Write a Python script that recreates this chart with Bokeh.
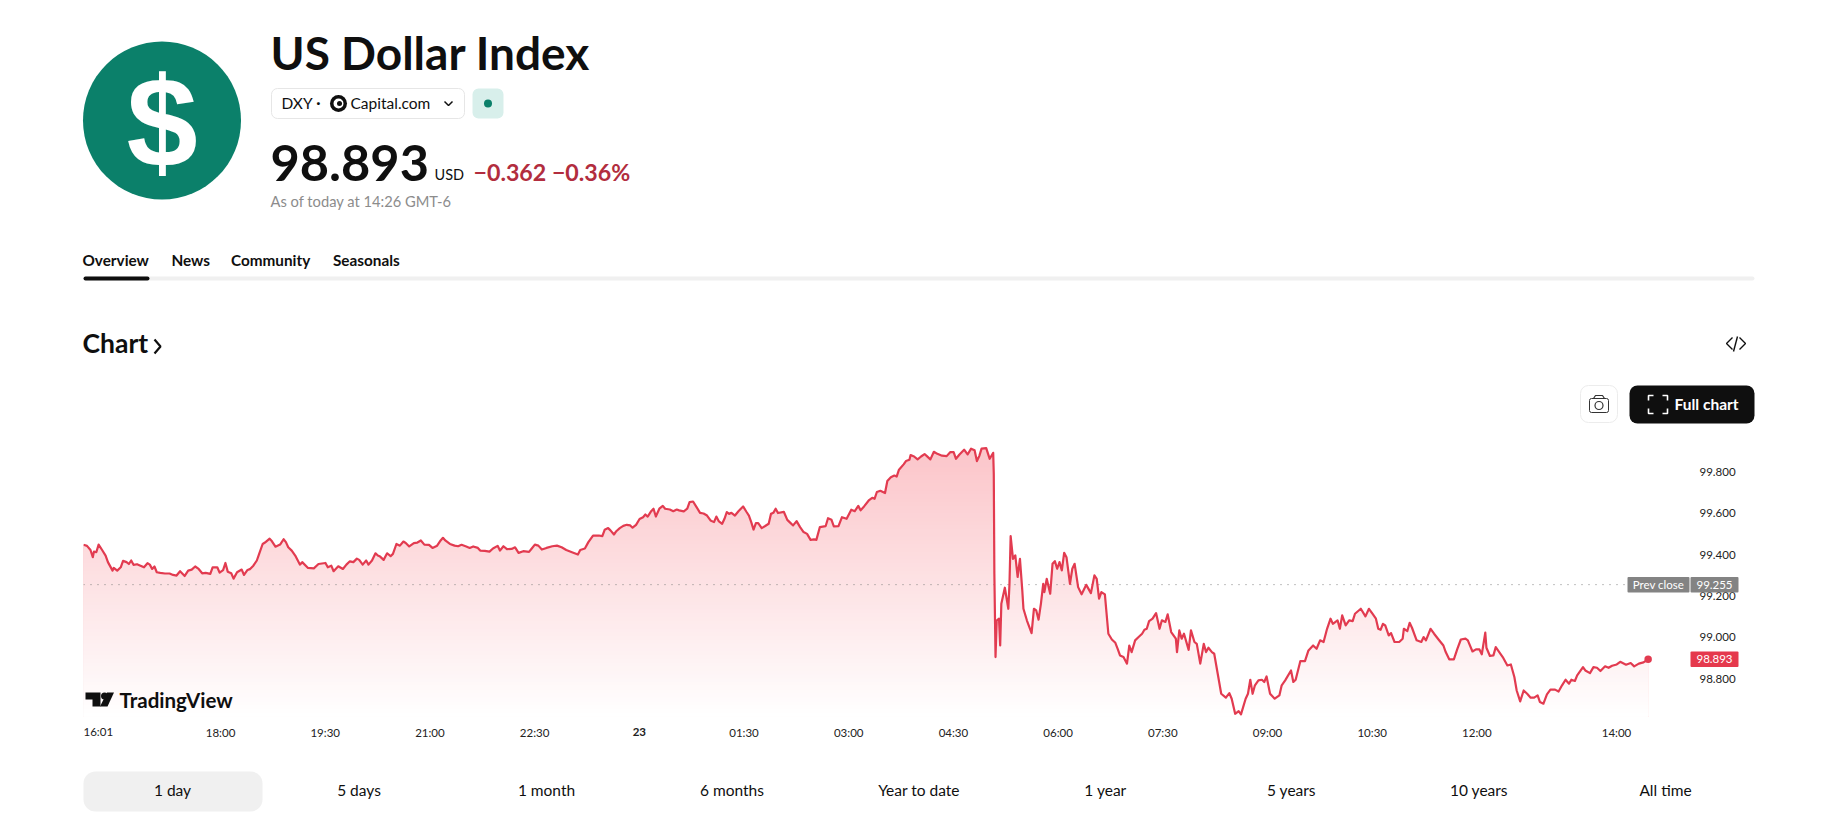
import numpy as np
from bokeh.core.properties import value
from bokeh.embed import file_html
from bokeh.layouts import column
from bokeh.models import FixedTicker, Label, NumeralTickFormatter, Range1d
from bokeh.plotting import figure
from bokeh.resources import INLINE

# ---- data ----
minutes = [0,3,6,8,9,11,13,16,19,21,25,26,29,32,34,37,39,41,43,46,49,52,55,57,59,61,63,66,70,74,77,80,83,87,90,93,96,99,102,105,109,111,115,117,120,122,124,127,129,132,136,138,141,143,146,149,151,154,156,160,162,165,169,172,174,176,179,182,186,188,193,198,202,208,210,213,215,219,223,
226,229,232,235,237,240,243,245,248,251,253,255,258,261,264,266,269,272,275,277,280,284,287,290,293,297,300,304,307,309,311,315,319,322,325,329,332,335,339,341,345,349,352,356,358,361,364,368,371,374,378,383,385,388,391,394,398,403,407,411,415,421,425,427,431,434,438,443,446,
448,451,453,456,458,461,464,467,470,472,475,478,481,483,485,488,490,492,495,498,500,504,507,510,512,516,519,521,524,527,530,533,536,539,542,544,546,549,551,553,555,557,560,563,567,570,572,574,576,578,580,583,586,589,591,593,595,597,602,605,607,610,613,616,619,622,625,628,630,633,638,640,643,645,649,652,656,660,663,666,668,670,
671,675,678,680,682,685,689,691,694,697,699,701,705,707,710,711,714,717,720,723,725,728,731,734,738,742,745,748,750,753,757,760,763,766,768,770,772,776,779,782,782.5,783,784,785,787,788,789,792,795,796,797,799,801,803,805,807,808,811,815,817,819,821,823,825,826,828,831,833,835,837,839,841,843,845,848,850,852,855,858,862,866,869,871,873,875,878,881,884,887,889,891,
894,897,899,901,904,907,910,912,914,916,919,922,925,927,930,932,935,939,940,942,944,946,950,952,955,957,960,963,965,967,970,972,975,978,982,985,987,990,993,995,999,1001,1003,1005,1007,1010,1013,1015,1017,1020,1024,1028,1030,1033,1038,1040,1042,1046,1050,1053,1057,1060,1063,1066,1069,1072,1074,1078,1080,1082,1085,1088,1091,1093,1098,1102,1105,1108,1111,1113,1115,
1117,1119,1122,1124,1127,1131,1134,1135,1138,1140,1142,1146,1150,1152,1154,1158,1161,1165,1169,1171,1174,1178,1181,1184,1188,1190,1194,1197,1200,1202,1205,1206,1209,1212,1214,1217,1220,1224,1227,1230,1232,1235,1238,1241,1244,1247,1250,1252,1255,1258,1261,1265,1268,1271,1274,1277,1279,1282,1284,1289,1291,1295,1298,1301,1304,1308,1311,1314,1318,1321,1326,1330,1333,1337,1341,1345]
prices = [99.448,99.443,99.423,99.388,99.415,99.412,99.449,99.423,99.396,99.364,99.323,99.336,99.323,99.339,99.370,99.364,99.355,99.372,99.351,99.354,99.347,99.339,99.359,99.352,99.331,99.343,99.315,99.312,99.309,99.309,99.302,99.299,99.320,99.297,99.323,99.328,99.343,99.331,99.310,99.312,99.307,99.339,99.339,99.313,99.325,99.360,99.318,99.310,99.284,99.315,99.328,99.302,99.326,99.330,99.347,99.372,99.404,99.452,99.459,99.478,99.465,99.439,99.449,99.475,99.461,99.436,99.420,99.396,99.352,99.364,99.336,99.334,99.355,99.360,99.339,99.347,99.320,99.344,99.331,
99.352,99.368,99.364,99.381,99.375,99.352,99.372,99.352,99.372,99.407,99.396,99.391,99.375,99.407,99.393,99.404,99.452,99.444,99.464,99.457,99.440,99.456,99.459,99.469,99.449,99.448,99.433,99.444,99.469,99.482,99.469,99.452,99.444,99.441,99.448,99.440,99.433,99.440,99.433,99.420,99.419,99.415,99.430,99.443,99.420,99.441,99.427,99.428,99.436,99.409,99.417,99.414,99.428,99.449,99.444,99.425,99.433,99.441,99.444,99.436,99.423,99.410,99.401,99.423,99.430,99.461,99.493,99.493,99.490,
99.521,99.529,99.518,99.498,99.514,99.529,99.540,99.545,99.542,99.531,99.545,99.573,99.582,99.595,99.585,99.611,99.623,99.585,99.623,99.637,99.623,99.619,99.611,99.619,99.615,99.610,99.623,99.655,99.658,99.631,99.603,99.600,99.590,99.566,99.558,99.585,99.563,99.550,99.574,99.607,99.598,99.603,99.590,99.611,99.634,99.607,99.590,99.558,99.522,99.553,99.553,99.529,99.539,99.550,99.598,99.603,99.623,99.602,99.608,99.569,99.558,99.542,99.563,99.534,99.510,99.501,99.472,99.474,99.472,99.534,99.539,99.577,99.569,99.537,99.539,99.582,99.574,99.618,99.611,99.637,99.615,99.628,
99.634,99.663,99.676,99.671,99.704,99.710,99.699,99.757,99.776,99.784,99.779,99.812,99.838,99.854,99.860,99.883,99.876,99.862,99.876,99.888,99.878,99.862,99.899,99.889,99.880,99.878,99.897,99.897,99.865,99.886,99.909,99.886,99.914,99.906,99.854,99.878,99.914,99.917,99.865,99.894,99.792,99.308,98.904,99.081,99.090,98.960,99.162,99.240,99.138,99.259,99.490,99.380,99.397,99.292,99.380,99.227,99.138,99.081,99.020,99.138,99.130,99.085,99.162,99.259,99.219,99.283,99.211,99.356,99.369,99.332,99.364,99.324,99.409,99.388,99.259,99.332,99.356,99.243,99.208,99.254,99.214,99.300,99.283,99.187,99.219,99.208,99.017,98.989,98.973,98.944,98.912,
98.904,98.872,98.960,98.928,98.985,99.001,99.017,99.036,99.041,99.078,99.090,99.117,99.041,99.082,99.074,99.111,99.025,98.993,98.928,99.033,98.993,99.017,98.939,99.033,98.977,98.968,98.872,98.968,98.928,98.949,98.928,98.920,98.823,98.726,98.707,98.729,98.702,98.629,98.642,98.626,98.702,98.726,98.794,98.726,98.767,98.791,98.794,98.783,98.810,98.726,98.702,98.718,98.767,98.791,98.839,98.783,98.794,98.884,98.884,98.936,98.960,98.944,98.985,98.977,99.041,99.090,99.065,99.082,99.041,99.106,99.057,99.082,99.078,99.114,99.138,99.101,99.138,99.114,99.090,99.041,99.036,
99.065,99.057,99.009,99.020,98.977,98.977,98.993,99.041,99.030,99.070,99.046,98.985,98.977,99.001,98.985,99.041,99.017,98.988,98.960,98.928,98.893,98.893,98.944,98.989,98.993,98.985,98.931,98.941,98.941,98.917,99.022,98.949,98.909,98.912,98.952,98.928,98.904,98.863,98.868,98.807,98.742,98.689,98.742,98.726,98.707,98.707,98.718,98.686,98.678,98.723,98.746,98.746,98.737,98.767,98.794,98.775,98.794,98.788,98.815,98.855,98.839,98.826,98.855,98.852,98.836,98.859,98.852,98.862,98.868,98.881,98.867,98.875,98.859,98.872,98.878,98.893]

time_tick_minutes = [119, 209, 299, 389, 569, 659, 749, 839, 929, 1019, 1109, 1199, 1319]
time_tick_labels = ["18:00", "19:30", "21:00", "22:30", "01:30", "03:00", "04:30", "06:00", "07:30", "09:00", "10:30", "12:00", "14:00"]
first_time = "16:01"
day_label, day_minute = "23", 479
price_ticks = [98.8, 99.0, 99.2, 99.4, 99.6, 99.8]
prev_close = 99.255
last_price = 98.893
periods = ["1 day", "5 days", "1 month", "6 months", "Year to date", "1 year", "5 years", "10 years", "All time"]
tabs = ["Overview", "News", "Community", "Seasonals"]

# ---- layout constants (page pixels) ----
W, H = 1837, 837
HEAD_B, CH_B, FRAME_L, FRAME_R = 425, 755, 83, 1754
PLOT_R, PLOT_B = 1690, 718   # where the axes sit inside the frame
FONT = "Lato"
INK = "#0f0f0f"

def page_fig(height, top, bottom):
    p = figure(width=W, height=height, x_range=Range1d(0, W), y_range=Range1d(bottom, top),
               output_backend="svg", toolbar_location=None, min_border=0, frame_align=False,
               background_fill_color="white", border_fill_color="white", outline_line_color=None)
    p.axis.visible = False
    p.grid.visible = False
    return p

def put(p, x, y, s, size, color=INK, style="normal", align="left", font=FONT, level="glyph"):
    p.text(x=[x], y=[y], text=[s], text_font=value(font), text_font_size=f"{size}px", text_color=color,
           text_font_style=style, text_align=align, text_baseline="middle", level=level)

def box(p, l, r, t, b, fill, line=None, radius=0, level="glyph"):
    p.quad(left=[l], right=[r], top=[t], bottom=[b], fill_color=fill, line_color=line, border_radius=radius, level=level)

# ---- header ----
h = page_fig(HEAD_B, 0, HEAD_B)
h.circle(x=[161.5], y=[120], radius=79, fill_color="#0b806a", line_color=None)
put(h, 161.5, 121, "$", 128, "white", "bold", "center", "Liberation Sans")
put(h, 270, 52, "US Dollar Index", 46, style="bold")
box(h, 271, 464, 88, 118, "white", "#e6e6e6", 6)
put(h, 281, 102, "DXY", 15.5)
put(h, 318, 101, "·", 15.5, style="bold", align="center")
h.circle(x=[338], y=[103], radius=8.5, fill_color=INK, line_color=None)
h.circle(x=[338], y=[103], radius=5, fill_color="white", line_color=None)
h.circle(x=[339], y=[103], radius=2.5, fill_color=INK, line_color=None)
put(h, 350, 102, "Capital.com", 15.5)
h.line(x=[444, 448, 452], y=[101, 105, 101], line_color=INK, line_width=1.5)
box(h, 472, 503, 88, 118, "#d8efeb", None, 6)
h.circle(x=[487.5], y=[103], radius=4, fill_color="#0b806a", line_color=None)
put(h, 270, 162, "98.893", 50.5, style="bold")
put(h, 434, 174, "USD", 14.5)
put(h, 473, 171, "−0.362 −0.36%", 23.2, "#b22d3e", "bold")
put(h, 270, 200, "As of today at 14:26 GMT-6", 14.7, "#8c8c8c")
tab_x = [82, 171, 230.5, 332.5]
for tx, tl in zip(tab_x, tabs):
    put(h, tx, 259, tl, 15.3, style="bold")
box(h, 83, 1754, 276, 280, "#f0f0f0", None, 2)
box(h, 83, 149, 276, 280, INK, None, 2)
put(h, 82, 342.5, "Chart", 26.5, style="bold")
h.line(x=[154, 160, 154], y=[339, 346, 353], line_color=INK, line_width=2.2)
h.multi_line(xs=[[1732, 1726, 1732], [1739, 1745, 1739], [1737, 1733]],
             ys=[[337, 343, 349], [337, 343, 349], [336, 351]], line_color=INK, line_width=1.4)
box(h, 1580, 1617, 385, 422, "white", "#ececec", 8)
box(h, 1589, 1608, 398, 412, "white", "#333333", 2)
h.line(x=[1593, 1595, 1602, 1604], y=[398, 395, 395, 398], line_color="#333333", line_width=1.2)
h.circle(x=[1598.5], y=[405], radius=4, fill_color="white", line_color="#333333", line_width=1.2)
box(h, 1629, 1754, 385, 423, INK, None, 8)
for xs_, ys_ in [([1648, 1648, 1653], [400, 395, 395]), ([1662, 1667, 1667], [395, 395, 400]),
                 ([1648, 1648, 1653], [408, 413, 413]), ([1662, 1667, 1667], [413, 413, 408])]:
    h.line(x=xs_, y=ys_, line_color="white", line_width=1.6)
put(h, 1674, 403.5, "Full chart", 15.5, "white", "bold")

# ---- chart ----
PX_PER_MIN = 1.1633
PX_PER_UNIT = 206.3
BAR_OFFSET = 1.2   # the first bar sits this many minutes inside the time scale
def X(px): return (px - FRAME_L) / PX_PER_MIN + BAR_OFFSET
def Y(py): return 99.8 - (py - 471.7) / PX_PER_UNIT

c = figure(width=W, height=CH_B - HEAD_B, x_range=Range1d(X(FRAME_L), X(FRAME_R)), y_range=Range1d(Y(CH_B), Y(HEAD_B)),
           output_backend="svg", toolbar_location=None, x_axis_location="below", y_axis_location="right",
           min_border_left=FRAME_L, min_border_right=W - FRAME_R, min_border_top=0, min_border_bottom=0,
           frame_align=False, outline_line_color=None,
           background_fill_color="white", border_fill_color="white")
c.grid.visible = False
for ax in (c.xaxis[0], c.yaxis[0]):
    ax.axis_line_color = None
    ax.major_tick_line_color = None
    ax.minor_tick_line_color = None
    ax.major_tick_out = 0
    ax.major_tick_in = 0
    ax.major_label_text_font = FONT
    ax.major_label_text_font_size = "11.5px"
    ax.major_label_text_color = "#222222"
c.xaxis[0].ticker = FixedTicker(ticks=time_tick_minutes)
c.xaxis[0].major_label_overrides = {m: t for m, t in zip(time_tick_minutes, time_tick_labels)}
c.xaxis[0].major_label_standoff = 7
c.xaxis[0].fixed_location = Y(PLOT_B)
c.yaxis[0].ticker = FixedTicker(ticks=price_ticks)
c.yaxis[0].formatter = NumeralTickFormatter(format="0.000")
c.yaxis[0].major_label_standoff = 9
c.yaxis[0].fixed_location = X(PLOT_R)

# vertical gradient under the line, from opaque bands painted bottom-up
xa = np.array(minutes, dtype=float) + BAR_OFFSET
ya = np.array(prices)
top_v, bot_v = Y(448), Y(716)
red = np.array([242, 54, 69]); white = np.array([255, 255, 255])
N = 70
for k in range(N):
    t = k / N
    edge = top_v + (bot_v - top_v) * t
    a = 0.29 * (1 - (k + 0.5) / N)
    col = white + (red - white) * a
    c.varea(x=xa, y1=np.full(len(xa), bot_v), y2=np.minimum(ya, edge),
            fill_color="#%02x%02x%02x" % tuple(int(round(v)) for v in col))

c.line(x=[X(FRAME_L), X(1627)], y=[prev_close, prev_close], line_color="#808080", line_width=1, line_dash=[1, 6])
c.line(x=xa, y=ya, line_color="#e23b50", line_width=2.2, line_join="round")
c.scatter(x=[xa[-1]], y=[last_price], size=7.5, marker="circle", fill_color="#e23b50", line_color=None)

# TradingView mark
c.patches(xs=[[X(85), X(100), X(100), X(92), X(92), X(85)], [X(106.5), X(113.5), X(107), X(99.5)]],
          ys=[[Y(692), Y(692), Y(706), Y(706), Y(699), Y(699)], [Y(692), Y(692), Y(706), Y(706)]],
          fill_color=INK, line_color=None)
c.scatter(x=[X(104)], y=[Y(695.5)], size=7, marker="circle", fill_color=INK, line_color=None)
c.add_layout(Label(x=X(119), y=Y(699), text="TradingView", text_font=FONT, text_font_size="20.5px", text_color=INK,
                   text_font_style="bold", text_baseline="middle", text_align="left"))

def tag(l, r, v, s, fill):
    half = 7.75 / PX_PER_UNIT
    c.quad(left=[X(l)], right=[X(r)], top=[v + half], bottom=[v - half], fill_color=fill, line_color=None,
           border_radius=1, level="overlay")
    c.text(x=[X((l + r) / 2)], y=[v], text=[s], text_font=value(FONT), text_font_size="11.5px", text_color="white",
           text_align="center", text_baseline="middle", level="overlay")
tag(1627, 1689, prev_close, "Prev close", "#838383")
tag(1690, 1738, prev_close, f"{prev_close:.3f}", "#838383")
tag(1690, 1738, last_price, f"{last_price:.3f}", "#e5394d")
c.add_layout(Label(x=X(FRAME_L), y=Y(731), text=first_time, text_font=FONT, text_font_size="11.5px", text_color="#222222",
                   text_align="left", text_baseline="middle"))
c.add_layout(Label(x=day_minute, y=Y(731), text=day_label, text_font=FONT, text_font_size="11.5px", text_color="#222222",
                   text_font_style="bold", text_align="center", text_baseline="middle"))

# ---- footer ----
f = page_fig(H - CH_B, CH_B, H)
box(f, 83, 262, 771, 811, "#f0f0f0", None, 12)
period_x = [172, 358.5, 546, 731.5, 918.5, 1105, 1291, 1478.5, 1665]
for px_, s in zip(period_x, periods):
    put(f, px_, 789.5, s, 15.5, align="center")

page = column(h, c, f, spacing=0)
open("out.html", "w").write(file_html(page, INLINE))
